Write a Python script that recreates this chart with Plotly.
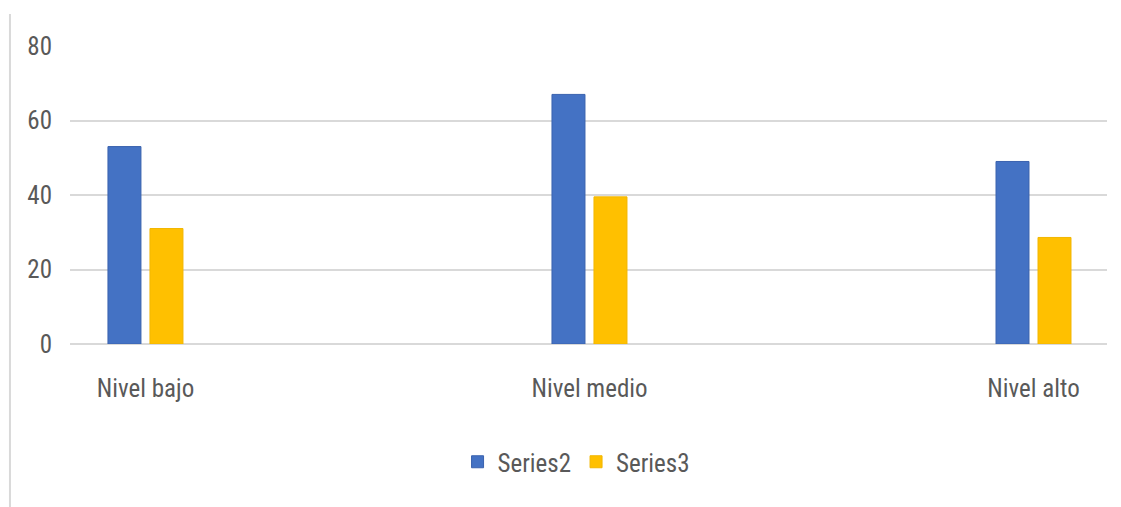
import plotly.graph_objects as go

categories = ["Nivel bajo", "Nivel medio", "Nivel alto"]
series2 = [53, 67, 49]
series3 = [31, 39.5, 28.6]
y_ticks = [0, 20, 40, 60, 80]

FONT = "Liberation Sans Narrow, Arial Narrow, Roboto Condensed, Liberation Sans, sans-serif"
TXT = "#595959"

fig = go.Figure()
fig.add_trace(go.Bar(
    x=categories, y=series2, name="Series2",
    marker=dict(color="#4472C4", line=dict(color="#3A62AE", width=1)),
    width=0.0743, offset=-0.0845,
))
fig.add_trace(go.Bar(
    x=categories, y=series3, name="Series3",
    marker=dict(color="#FFC000", line=dict(color="#F2B600", width=1)),
    width=0.0743, offset=0.0101,
))

fig.update_layout(
    width=1121, height=507,
    margin=dict(l=70, r=14, t=46, b=163),
    paper_bgcolor="white", plot_bgcolor="white",
    barmode="overlay",
    font=dict(family=FONT, size=25, color=TXT),
    showlegend=True,
    legend=dict(orientation="h", x=0.488, xanchor="center", y=-0.396, yanchor="middle",
                font=dict(family=FONT, size=25, color=TXT), itemwidth=30,
                traceorder="normal"),
    xaxis=dict(type="category", range=[-0.17, 2.1655], showgrid=False,
               showline=False, ticks="", ticklabelstandoff=27,
               tickfont=dict(family=FONT, size=25, color=TXT)),
    yaxis=dict(range=[0, 80], tickvals=y_ticks, showgrid=True, gridcolor="#D9D9D9",
               gridwidth=1.5, zeroline=True, zerolinecolor="#D9D9D9", zerolinewidth=1.5,
               showline=False, ticks="", ticklabelstandoff=17,
               tickfont=dict(family=FONT, size=25, color=TXT)),
    shapes=[dict(type="line", xref="paper", yref="paper",
                 x0=-0.0579, x1=-0.0579, y0=-0.55, y1=1.107,
                 line=dict(color="#D9D9D9", width=2))],
)

fig.write_html("out.html")
